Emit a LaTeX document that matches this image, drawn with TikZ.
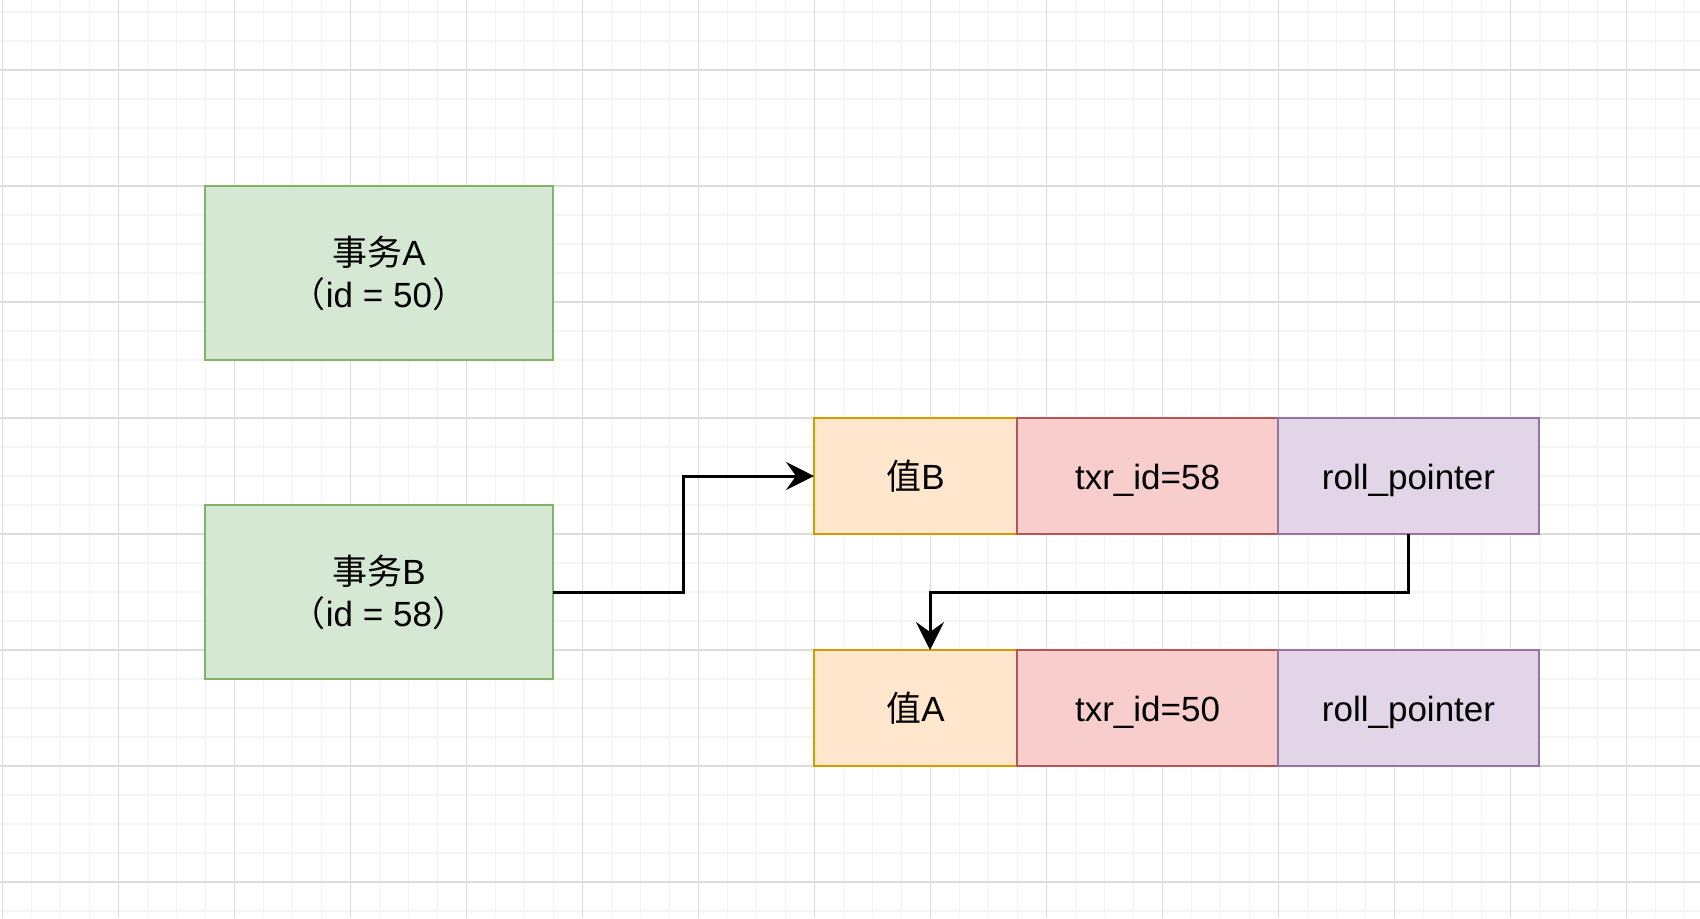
\documentclass[tikz,border=0pt]{standalone}
\usepackage{fontspec}
\setmainfont{Liberation Sans}
\newfontfamily\cjk{Noto Sans CJK SC}
\usetikzlibrary{arrows.meta, positioning, calc}
\definecolor{gridminor}{RGB}{244, 244, 244}
\definecolor{gridmajor}{RGB}{220, 220, 220}
\definecolor{txgreen}{HTML}{D5E8D4}
\definecolor{txgreenline}{HTML}{82B366}
\definecolor{valorange}{HTML}{FFE6CC}
\definecolor{valorangeline}{HTML}{D79B00}
\definecolor{idred}{HTML}{F8CECC}
\definecolor{idredline}{HTML}{B85450}
\definecolor{ptrpurple}{HTML}{E1D5E7}
\definecolor{ptrpurpleline}{HTML}{9673A6}

\begin{document}
\begin{tikzpicture}[x=0.5pt, y=-0.5pt,
  box/.style={draw, line width=1.3pt, outer sep=0pt, inner sep=0pt, align=center,
    font=\fontsize{17.5}{21}\selectfont},
  txbox/.style={box, fill=txgreen, draw=txgreenline, minimum width=174pt, minimum height=87pt},
  cell/.style={box, minimum height=58pt, text height=16.6pt, text depth=3pt},
  arrow/.style={-{Stealth[length=14pt, width=14pt, inset=5pt]}, line width=1.5pt}
]
  % canvas and grid
  \useasboundingbox[fill=white] (0,0) rectangle (1700,918);
  \foreach \i in {0,...,58}
    \draw[gridminor, line width=0.6pt] (2.3+29*\i,0) -- (2.3+29*\i,918);
  \foreach \i in {0,...,31}
    \draw[gridminor, line width=0.6pt] (0,12+29*\i) -- (1700,12+29*\i);
  \foreach \i in {0,...,14}
    \draw[gridmajor, line width=0.6pt] (2.3+116*\i,0) -- (2.3+116*\i,918);
  \foreach \i in {0,...,7}
    \draw[gridmajor, line width=0.6pt] (0,70+116*\i) -- (1700,70+116*\i);

  % transactions
  \node[txbox] (tb) at (379, 592) {{\cjk 事务}B\\{\cjk （}id = 58{\cjk ）}};
  \node[txbox, above=72.5pt of tb] (ta) {{\cjk 事务}A\\{\cjk （}id = 50{\cjk ）}};

  % newest version
  \node[cell, fill=valorange, draw=valorangeline, minimum width=101.5pt, anchor=west] (va1) at (814, 476) {{\cjk 值}B};
  \node[cell, fill=idred, draw=idredline, minimum width=130.5pt, right=0pt of va1] (tx1) {txr\_id=58};
  \node[cell, fill=ptrpurple, draw=ptrpurpleline, minimum width=130.5pt, right=0pt of tx1] (rp1) {roll\_pointer};

  % older version
  \node[cell, fill=valorange, draw=valorangeline, minimum width=101.5pt, below=58pt of va1] (va2) {{\cjk 值}A};
  \node[cell, fill=idred, draw=idredline, minimum width=130.5pt, right=0pt of va2] (tx2) {txr\_id=50};
  \node[cell, fill=ptrpurple, draw=ptrpurpleline, minimum width=130.5pt, right=0pt of tx2] (rp2) {roll\_pointer};

  % connectors
  \draw[arrow] (tb.east) -| ($(tb.east)!0.5!(va1.west)$) |- (va1.west);
  \draw[arrow] (rp1.south) -- ++(0,-29pt) -| ([xshift=7.25pt]va2.north);
\end{tikzpicture}
\end{document}
